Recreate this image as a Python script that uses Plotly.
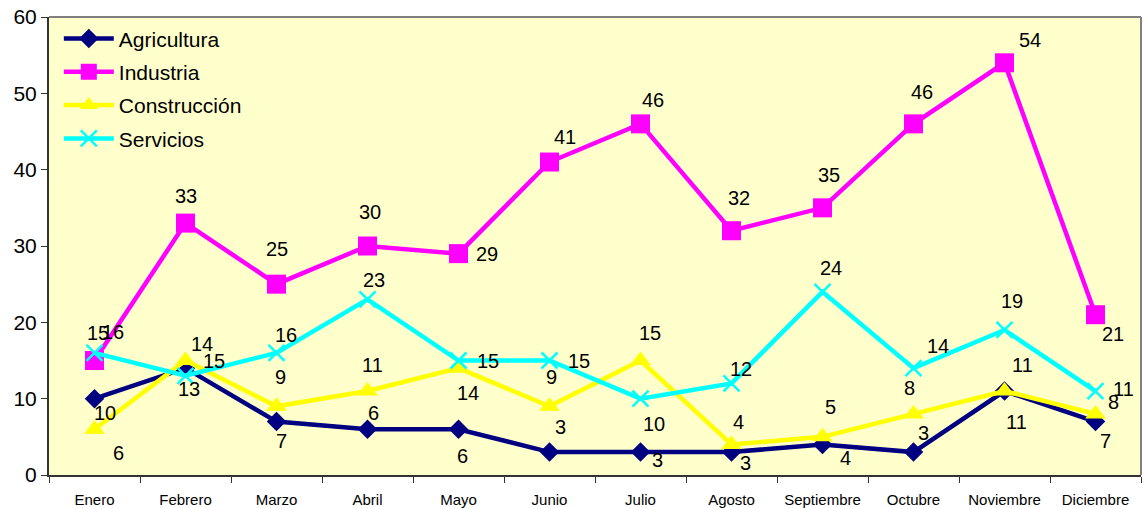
import plotly.graph_objects as go

months = ["Enero", "Febrero", "Marzo", "Abril", "Mayo", "Junio", "Julio",
          "Agosto", "Septiembre", "Octubre", "Noviembre", "Diciembre"]
agricultura = [10, 14, 7, 6, 6, 3, 3, 3, 4, 3, 11, 7]
industria = [15, 33, 25, 30, 29, 41, 46, 32, 35, 46, 54, 21]
construccion = [6, 15, 9, 11, 14, 9, 15, 4, 5, 8, 11, 8]
servicios = [16, 13, 16, 23, 15, 15, 10, 12, 24, 14, 19, 11]
y_ticks = [0, 10, 20, 30, 40, 50, 60]

# label offsets in pixels (dx right, dy down) for each series
off_agri = [(10, 14), (16, -24), (5, 19), (6, -16), (4, 27), (11, -25), (17, 8),
            (14, 11), (23, 14), (10, -19), (12, 31), (10, 19)]
off_ind = [(3, -28), (0, -27), (0, -35), (2, -34), (28, 0), (15, -25), (12, -24),
           (7, -33), (6, -33), (8, -32), (25, -23), (17, 19)]
off_con = [(24, 24), (28, 0), (4, -29), (5, -26), (9, 25), (2, -29), (9, -28),
           (7, -22), (8, -30), (-4, -26), (18, -26), (18, -12)]
off_ser = [(18, -21), (3, 13), (9, -18), (6, -19), (29, 0), (29, 0), (13, 25),
           (9, -14), (8, -24), (24, -22), (7, -29), (28, -2)]

FONT = "Liberation Sans, Arial, sans-serif"

series = [
    ("Agricultura", agricultura, "#000080", dict(symbol="diamond", size=15), off_agri),
    ("Industria", industria, "#FF00FF", dict(symbol="square", size=19), off_ind),
    ("Construcción", construccion, "#FFFF00", dict(symbol="triangle-up", size=18), off_con),
    ("Servicios", servicios, "#00FFFF", dict(symbol="x-thin", size=16), off_ser),
]

fig = go.Figure()
annotations = []
for name, vals, color, mk, offs in series:
    marker = dict(color=color, **mk)
    if mk["symbol"] == "x-thin":
        marker["line"] = dict(color=color, width=2.5)
    else:
        marker["line"] = dict(width=0)
    fig.add_trace(go.Scatter(
        x=months, y=vals, name=name, mode="lines+markers", legendgroup=name,
        line=dict(color=color, width=4.5), marker=marker,
    ))
    for m, v, (dx, dy) in zip(months, vals, offs):
        annotations.append(dict(
            x=m, y=v, xref="x", yref="y", text=str(v), showarrow=False,
            xanchor="center", yanchor="middle", xshift=dx, yshift=-dy,
            font=dict(family=FONT, size=20, color="black"),
        ))

fig.update_layout(
    width=1145, height=508,
    margin=dict(l=49, r=4, t=17, b=33, autoexpand=False),
    paper_bgcolor="white",
    plot_bgcolor="#FFFFCC",
    font=dict(family=FONT, color="black"),
    showlegend=True,
    legend=dict(
        x=0.009, y=0.997, xanchor="left", yanchor="top",
        bgcolor="rgba(0,0,0,0)", borderwidth=0,
        font=dict(family=FONT, size=21, color="black"),
        itemwidth=50, tracegroupgap=3,
    ),
    annotations=annotations,
    shapes=[
        dict(type="line", xref="paper", yref="paper", x0=0, x1=1, y0=1, y1=1,
             line=dict(color="#808080", width=2)),
        dict(type="line", xref="paper", yref="paper", x0=1, x1=1, y0=0, y1=1,
             line=dict(color="#808080", width=2)),
    ],
)
fig.update_xaxes(
    type="category", range=[-0.5, 11.5], automargin=False,
    showgrid=False, zeroline=False,
    showline=True, linecolor="#333333", linewidth=2,
    ticks="outside", tickson="boundaries", ticklen=6, tickcolor="#333333",
    ticklabelstandoff=10,
    tickfont=dict(family=FONT, size=15, color="black"),
)
fig.update_yaxes(
    range=[0, 60], tickvals=y_ticks, automargin=False,
    showgrid=False, zeroline=False,
    showline=True, linecolor="#333333", linewidth=2,
    ticks="outside", ticklen=6, tickcolor="#333333",
    ticklabeloverflow="allow",
    tickfont=dict(family=FONT, size=21, color="black"),
)

fig.write_html(
    "out.html",
    config={"displayModeBar": False},
    post_script="document.body.style.margin='0';document.body.style.overflow='hidden';",
)
